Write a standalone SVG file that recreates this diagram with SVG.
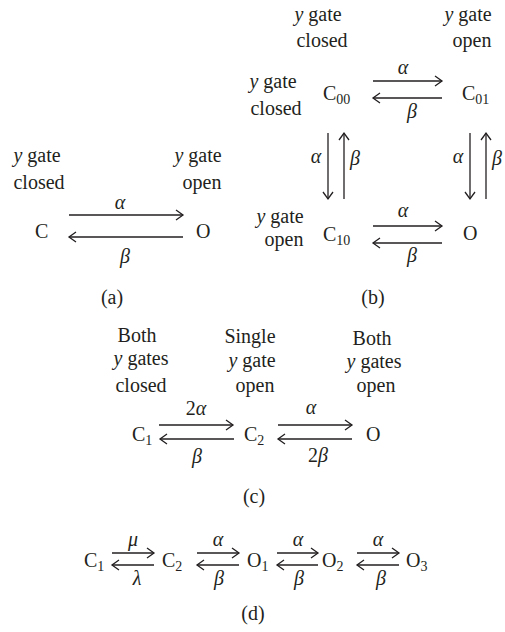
<svg xmlns="http://www.w3.org/2000/svg" width="505" height="632" viewBox="0 0 505 632">
<defs>
<style>
text{font-family:"Liberation Serif","Times New Roman",serif;font-size:20px;fill:#231f20}
.m{text-anchor:middle}
.i{font-style:italic}
.s{font-size:14px}
.a{stroke:#231f20;stroke-width:1.3;fill:none;marker-end:url(#h)}
</style>
<marker id="h" markerUnits="userSpaceOnUse" markerWidth="12" markerHeight="12" viewBox="-9 -6 10 12" refX="0" refY="0" orient="auto" overflow="visible">
<path d="M-7,-5 L0,0 L-7,5" fill="none" stroke="#231f20" stroke-width="1.3"/>
</marker>
</defs>
<rect width="505" height="632" fill="#fff"/>

<!-- (a) -->
<g id="a-C">
<text class="m" x="37" y="162"><tspan class="i">y</tspan> gate</text>
<text class="m" x="39" y="189">closed</text>
<text x="35" y="238">C</text>
</g>
<g id="a-O">
<text class="m" x="198" y="162"><tspan class="i">y</tspan> gate</text>
<text class="m" x="202" y="189">open</text>
<text x="196" y="238">O</text>
</g>
<text id="a-label" class="m" x="112" y="304">(a)</text>

<!-- (b) -->
<g id="b-C00">
<text class="m" x="318" y="21"><tspan class="i">y</tspan> gate</text>
<text class="m" x="322" y="47">closed</text>
<text class="m" x="273" y="88"><tspan class="i">y</tspan> gate</text>
<text class="m" x="276" y="115">closed</text>
<text x="323" y="100">C<tspan class="s" dy="4">00</tspan></text>
</g>
<g id="b-C01">
<text class="m" x="468" y="21"><tspan class="i">y</tspan> gate</text>
<text class="m" x="472" y="47">open</text>
<text x="462" y="100">C<tspan class="s" dy="4">01</tspan></text>
</g>
<g id="b-C10">
<text class="m" x="280" y="223"><tspan class="i">y</tspan> gate</text>
<text class="m" x="284" y="246">open</text>
<text x="323" y="241">C<tspan class="s" dy="4">10</tspan></text>
</g>
<g id="b-O">
<text x="463" y="240">O</text>
</g>
<text id="b-label" class="m" x="373" y="304">(b)</text>

<!-- (c) -->
<g id="c-C1">
<text class="m" x="137" y="342">Both</text>
<text class="m" x="141" y="365"><tspan class="i">y</tspan> gates</text>
<text class="m" x="141" y="392">closed</text>
<text x="132" y="441">C<tspan class="s" dy="4">1</tspan></text>
</g>
<g id="c-C2">
<text class="m" x="250" y="343">Single</text>
<text class="m" x="252" y="367"><tspan class="i">y</tspan> gate</text>
<text class="m" x="255" y="392">open</text>
<text x="244" y="441">C<tspan class="s" dy="4">2</tspan></text>
</g>
<g id="c-O">
<text class="m" x="372" y="345">Both</text>
<text class="m" x="374" y="368"><tspan class="i">y</tspan> gates</text>
<text class="m" x="376" y="392">open</text>
<text x="366" y="441">O</text>
</g>
<text id="c-label" class="m" x="254" y="503">(c)</text>

<!-- (d) -->
<g id="d-C1"><text x="84" y="567">C<tspan class="s" dy="4">1</tspan></text></g>
<g id="d-C2"><text x="162" y="567">C<tspan class="s" dy="4">2</tspan></text></g>
<g id="d-O1"><text x="247" y="567">O<tspan class="s" dy="4">1</tspan></text></g>
<g id="d-O2"><text x="322" y="567">O<tspan class="s" dy="4">2</tspan></text></g>
<g id="d-O3"><text x="406" y="567">O<tspan class="s" dy="4">3</tspan></text></g>
<text id="d-label" class="m" x="253" y="620">(d)</text>

<!-- connectors -->
<g id="connectors">
<line class="a" x1="69" y1="215" x2="183" y2="215"/>
<line class="a" x1="183" y1="237" x2="69" y2="237"/>
<line class="a" x1="373" y1="81" x2="442" y2="81"/>
<line class="a" x1="442" y1="98" x2="373" y2="98"/>
<line class="a" x1="328" y1="133" x2="328" y2="199"/>
<line class="a" x1="344" y1="199" x2="344" y2="133"/>
<line class="a" x1="470" y1="133" x2="470" y2="199"/>
<line class="a" x1="486" y1="199" x2="486" y2="133"/>
<line class="a" x1="373" y1="226" x2="442" y2="226"/>
<line class="a" x1="442" y1="243" x2="373" y2="243"/>
<line class="a" x1="159" y1="425" x2="233" y2="425"/>
<line class="a" x1="234" y1="439" x2="160" y2="439"/>
<line class="a" x1="278" y1="425" x2="352" y2="425"/>
<line class="a" x1="352" y1="439" x2="278" y2="439"/>
<line class="a" x1="112" y1="553" x2="154" y2="553"/>
<line class="a" x1="154" y1="565" x2="112" y2="565"/>
<line class="a" x1="197" y1="553" x2="239" y2="553"/>
<line class="a" x1="239" y1="565" x2="197" y2="565"/>
<line class="a" x1="277" y1="553" x2="318" y2="553"/>
<line class="a" x1="318" y1="565" x2="277" y2="565"/>
<line class="a" x1="357" y1="553" x2="399" y2="553"/>
<line class="a" x1="399" y1="565" x2="357" y2="565"/>
<g id="rates">
<text class="m i" x="120" y="209">α</text>
<text class="m i" x="125" y="263">β</text>
<text class="m i" x="403" y="74">α</text>
<text class="m i" x="412" y="118">β</text>
<text class="m i" x="316" y="163">α</text>
<text class="m i" x="355" y="165">β</text>
<text class="m i" x="458" y="163">α</text>
<text class="m i" x="497" y="165">β</text>
<text class="m i" x="403" y="217">α</text>
<text class="m i" x="412" y="262">β</text>
<text class="m" x="196" y="415">2<tspan class="i">α</tspan></text>
<text class="m i" x="197" y="463">β</text>
<text class="m i" x="311" y="414">α</text>
<text class="m" x="318" y="462">2<tspan class="i">β</tspan></text>
<text class="m i" x="133" y="546">μ</text>
<text class="m i" x="137" y="585">λ</text>
<text class="m i" x="218" y="546">α</text>
<text class="m i" x="219" y="585">β</text>
<text class="m i" x="298" y="546">α</text>
<text class="m i" x="299" y="585">β</text>
<text class="m i" x="378" y="546">α</text>
<text class="m i" x="381" y="585">β</text>
</g>
</g>
</svg>
